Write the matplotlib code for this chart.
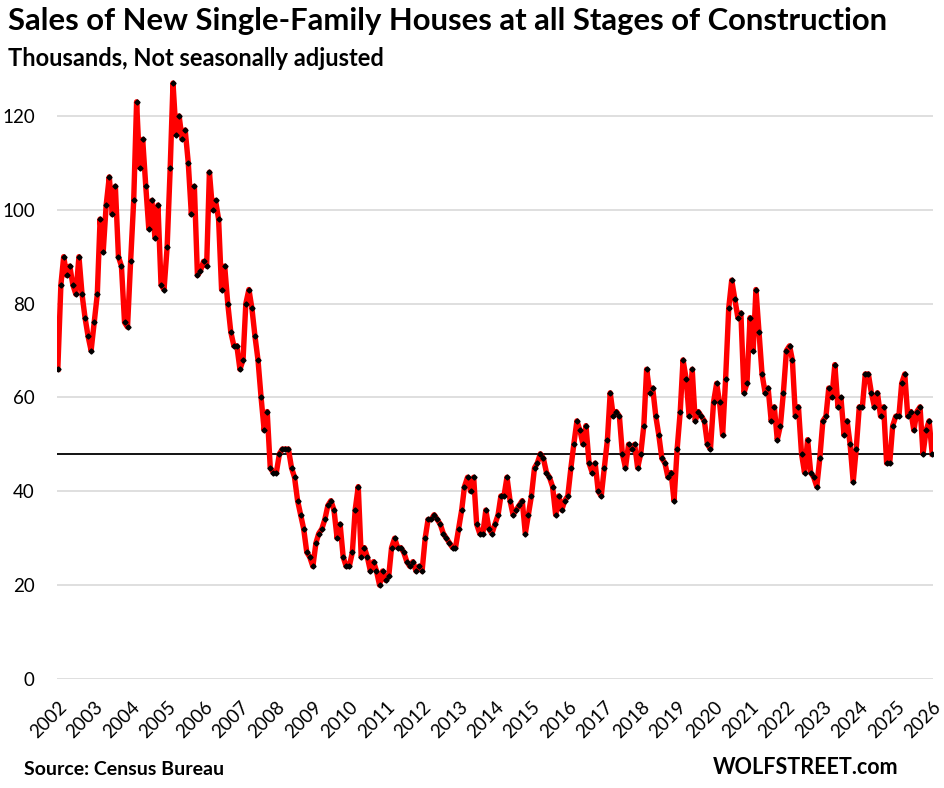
import pandas as pd
import matplotlib
matplotlib.use('Agg')
import matplotlib.pyplot as plt

plt.rcParams['font.family'] = ['Lato', 'DejaVu Sans']

# monthly sales, thousands, not seasonally adjusted
sales_2002 = [66, 84, 90, 86, 88, 84, 82, 90, 82, 77, 73, 70]
sales_2003 = [76, 82, 98, 91, 101, 107, 99, 105, 90, 88, 76, 75]
sales_2004 = [89, 102, 123, 109, 115, 105, 96, 102, 94, 101, 84, 83]
sales_2005 = [92, 109, 127, 116, 120, 115, 117, 110, 99, 105, 86, 87]
sales_2006 = [89, 88, 108, 100, 102, 98, 83, 88, 80, 74, 71, 71]
sales_2007 = [66, 68, 80, 83, 79, 73, 68, 60, 53, 57, 45, 44]
sales_2008 = [44, 48, 49, 49, 49, 45, 43, 38, 35, 32, 27, 26]
sales_2009 = [24, 29, 31, 32, 34, 37, 38, 36, 30, 33, 26, 24]
sales_2010 = [24, 27, 36, 41, 26, 28, 26, 23, 25, 23, 20, 23]
sales_2011 = [21, 22, 28, 30, 28, 28, 27, 25, 24, 25, 23, 24]
sales_2012 = [23, 30, 34, 34, 35, 34, 33, 31, 30, 29, 28, 28]
sales_2013 = [32, 36, 41, 43, 40, 43, 33, 31, 31, 36, 32, 31]
sales_2014 = [33, 35, 39, 39, 43, 38, 35, 36, 37, 38, 31, 35]
sales_2015 = [39, 45, 46, 48, 47, 44, 43, 41, 35, 39, 36, 38]
sales_2016 = [39, 45, 50, 55, 53, 50, 54, 46, 44, 46, 40, 39]
sales_2017 = [45, 51, 61, 56, 57, 56, 48, 45, 50, 49, 50, 45]
sales_2018 = [48, 54, 66, 61, 62, 56, 52, 47, 46, 43, 44, 38]
sales_2019 = [49, 57, 68, 64, 56, 66, 55, 57, 56, 55, 50, 49]
sales_2020 = [59, 63, 59, 52, 64, 79, 85, 81, 77, 78, 61, 63]
sales_2021 = [77, 70, 83, 74, 65, 61, 62, 55, 58, 51, 54, 61]
sales_2022 = [70, 71, 68, 56, 58, 48, 44, 51, 44, 43, 41, 47]
sales_2023 = [55, 56, 62, 60, 67, 58, 60, 52, 55, 50, 42, 49]
sales_2024 = [58, 58, 65, 65, 61, 58, 61, 56, 58, 46, 46, 54]
sales_2025 = [56, 56, 63, 65, 56, 57, 53, 57, 58, 48, 53, 55]
sales_2026 = [48]

sales = (sales_2002 + sales_2003 + sales_2004 + sales_2005 + sales_2006 +
         sales_2007 + sales_2008 + sales_2009 + sales_2010 + sales_2011 +
         sales_2012 + sales_2013 + sales_2014 + sales_2015 + sales_2016 +
         sales_2017 + sales_2018 + sales_2019 + sales_2020 + sales_2021 +
         sales_2022 + sales_2023 + sales_2024 + sales_2025 + sales_2026)
months = pd.date_range('2002-01-01', periods=len(sales), freq='MS')
years = pd.date_range('2002-01-01', '2026-01-01', freq='YS')
y_ticks = [0, 20, 40, 60, 80, 100, 120]

fig = plt.figure(figsize=(9.44, 7.88), dpi=100)
ax = fig.add_axes([57/944, 109/788, 876/944, 610/788])

ax.plot(months, sales, color='red', lw=3.9, solid_joinstyle='round', zorder=3)
ax.plot(months, sales, ls='none', marker='D', ms=2.6, color='black', zorder=4)
# reference line at the latest value
ax.axhline(sales[-1], color='black', lw=1.3, zorder=2)

ax.set_ylim(0, 130)
ax.set_yticks(y_ticks)
ax.set_xlim(months[0] - pd.Timedelta(days=8), months[-1] + pd.Timedelta(days=8))
ax.set_xticks(years)
ax.set_xticklabels([str(d.year) for d in years], rotation=45, ha='right',
                   rotation_mode='anchor')
ax.grid(axis='y', color='#d9d9d9', lw=1.2)
ax.set_axisbelow(True)
for s in ax.spines.values():
    s.set_visible(False)
ax.tick_params(axis='both', length=0, labelsize=13.5, colors='black')
ax.tick_params(axis='y', pad=16)
ax.tick_params(axis='x', pad=14)

fig.text(8/944, 1 - 7/788, 'Sales of New Single-Family Houses at all Stages of Construction',
         fontsize=22.3, fontweight='bold', va='top', ha='left')
fig.text(8/944, 1 - 47/788, 'Thousands, Not seasonally adjusted',
         fontsize=17, fontweight='bold', va='top', ha='left')
fig.text(24/944, 1 - 778/788, 'Source: Census Bureau',
         fontsize=14, fontweight='bold', va='bottom', ha='left')
fig.text(898/944, 1 - 778/788, 'WOLFSTREET.com',
         fontsize=15.5, fontweight='bold', va='bottom', ha='right')

fig.savefig('out.png', dpi=100)
